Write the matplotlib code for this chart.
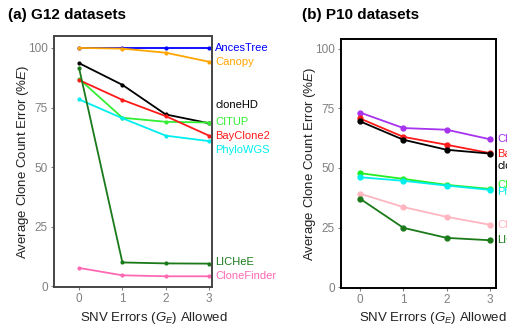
import numpy as np
import matplotlib
matplotlib.use("Agg")
import matplotlib.pyplot as plt

plt.rcParams['font.family'] = ['Liberation Sans', 'DejaVu Sans']
plt.rcParams['mathtext.fontset'] = 'custom'
plt.rcParams['mathtext.rm'] = 'Liberation Sans'
plt.rcParams['mathtext.it'] = 'Liberation Sans:italic'

x = [0, 1, 2, 3]

# --- (a) G12 datasets ---
g12_names = ["AncesTree", "Canopy", "cloneHD", "CITUP", "BayClone2",
             "PhyloWGS", "LICHeE", "CloneFinder"]
g12_colors = ["#0000ff", "#ffa500", "#000000", "#33ee33", "#ff1a1a",
              "#00eeee", "#1a7a1a", "#ff69b4"]
g12_vals = [
    [100, 100, 100, 100],
    [100, 99.7, 98, 94.2],
    [93.6, 84.5, 72.1, 68.4],
    [87, 70.7, 69, 68.7],
    [86.5, 78.2, 71.4, 63.2],
    [78.4, 70.5, 63.2, 60.9],
    [91.5, 10, 9.6, 9.5],
    [7.7, 4.6, 4.2, 4.2],
]
g12_label_y = [100, 94.2, 76, 69, 63, 57, 10, 4.2]

# --- (b) P10 datasets ---
p10_names = ["Clomial", "BayClone2", "cloneHD", "CITUP", "PhyloWGS",
             "CloneFinder", "LICHeE"]
p10_colors = ["#a633ee", "#ff1a1a", "#000000", "#22ee22", "#00eeee",
              "#ffb6c1", "#1a7a1a"]
p10_vals = [
    [73.2, 66.7, 66, 62],
    [70.7, 63, 59.7, 56.2],
    [69.5, 61.8, 57.6, 56],
    [47.8, 45.4, 42.9, 41.2],
    [46.1, 44.6, 42.6, 40.8],
    [39.2, 33.6, 29.5, 26.2],
    [37.1, 24.9, 20.7, 19.7],
]
p10_label_y = [62, 56, 50.8, 43, 40, 26.2, 19.7]

fig = plt.figure(figsize=(5.07, 3.27), dpi=100)
W, H = 507, 327
axa = fig.add_axes([54 / W, 1 - 287 / H, 158 / W, 251 / H])
axb = fig.add_axes([341 / W, 1 - 288 / H, 155 / W, 249 / H])

ylab = "Average Clone Count Error (%$\\mathit{E}$)"
xlab = "SNV Errors ($\\mathit{G_E}$) Allowed"


def style(ax, xlim, ylim, spine_col, xlab_x, ylab_x):
    ax.set_xlim(*xlim)
    ax.set_ylim(*ylim)
    ax.set_xticks(x)
    ax.set_yticks([0, 25, 50, 75, 100])
    ax.tick_params(labelsize=8.5, labelcolor="#808080", color="#808080",
                   length=2.5, width=0.8, pad=2)
    for s in ax.spines.values():
        s.set_color(spine_col)
        s.set_linewidth(1.4)
    ax.set_ylabel(ylab, fontsize=9.5, color="#222222")
    ax.set_xlabel(xlab, fontsize=9.5, color="#222222")
    ax.xaxis.set_label_coords(xlab_x, -0.09)
    ax.yaxis.set_label_coords(ylab_x, 0.5)


for vals, col in zip(g12_vals, g12_colors):
    axa.plot(x, vals, color=col, lw=1.3, marker="o", ms=2, clip_on=False)
for name, col, ly in zip(g12_names, g12_colors, g12_label_y):
    axa.text(3.15, ly, name, color=col, fontsize=8, va="center", ha="left",
             clip_on=False)
style(axa, (-0.58, 3.07), (-0.3, 105), "#444444", 0.63, -0.145)

for vals, col in zip(p10_vals, p10_colors):
    axb.plot(x, vals, color=col, lw=1.3, marker="o", ms=3.5, clip_on=False)
for name, col, ly in zip(p10_names, p10_colors, p10_label_y):
    axb.text(3.17, ly, name, color=col, fontsize=8, va="center", ha="left",
             clip_on=False)
style(axb, (-0.44, 3.14), (-0.3, 104), "#000000", 0.59, -0.15)

fig.text(8 / W, 1 - 15 / H, "(a) G12 datasets", fontsize=11, fontweight="bold",
         va="center", ha="left")
fig.text(302 / W, 1 - 15 / H, "(b) P10 datasets", fontsize=11, fontweight="bold",
         va="center", ha="left")

fig.savefig("out.png", dpi=100)
